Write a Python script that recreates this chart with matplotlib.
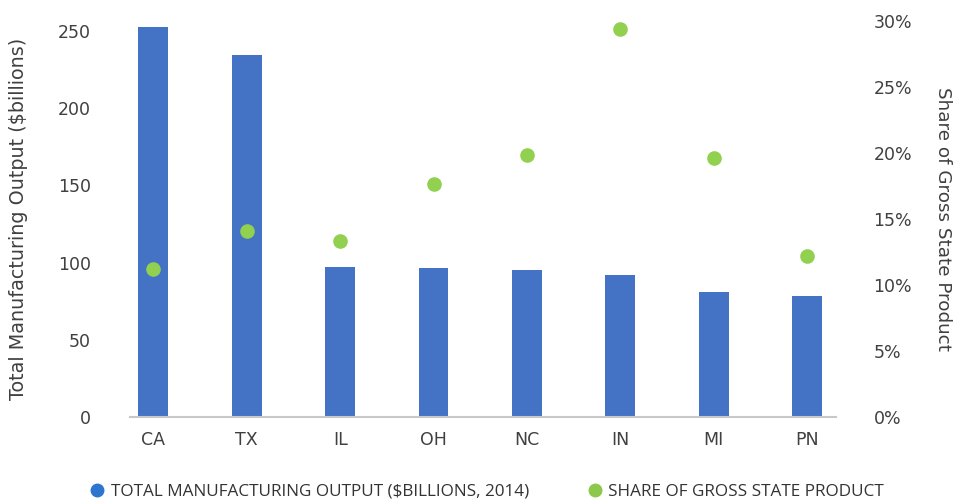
import matplotlib.pyplot as plt
from matplotlib.lines import Line2D
from matplotlib.ticker import PercentFormatter

plt.rcParams['font.family'] = ['DejaVu Sans']

states = ['CA', 'TX', 'IL', 'OH', 'NC', 'IN', 'MI', 'PN']
output_bn = [252.6, 234.5, 97.2, 96.5, 95.2, 92.0, 81.0, 78.4]
gsp_share = [11.2, 14.1, 13.3, 17.65, 19.85, 29.4, 19.6, 12.2]
left_ticks = [0, 50, 100, 150, 200, 250]
right_ticks = [0, 5, 10, 15, 20, 25, 30]

bar_color = '#4472C4'
dot_color = '#92D050'
text_color = '#404040'

fig = plt.figure(figsize=(9.64, 5.04), dpi=100)
ax = fig.add_axes([0.1349, 0.1726, 0.7323, 0.7857])
ax2 = ax.twinx()

x = range(len(states))
ax.bar(x, output_bn, width=0.32, color=bar_color, zorder=2)
ax2.plot(x, gsp_share, 'o', color=dot_color, markersize=9.5, zorder=3)

ax.set_xlim(-0.25, 7.31)
ax.set_ylim(0, 256.5)
ax2.set_ylim(0, 30)
ax.set_yticks(left_ticks)
ax2.set_yticks(right_ticks)
ax2.yaxis.set_major_formatter(PercentFormatter(decimals=0))
ax.set_xticks(list(x))
ax.set_xticklabels(states)

for a in (ax, ax2):
    for s in ['top', 'left', 'right', 'bottom']:
        a.spines[s].set_visible(False)
    a.tick_params(length=0, labelsize=12.5, colors=text_color)
ax.spines['bottom'].set_visible(True)
ax.spines['bottom'].set_color('#C8C8C8')
ax.spines['bottom'].set_linewidth(1.5)
ax.tick_params(axis='y', pad=28)
ax2.tick_params(axis='y', pad=27)
ax.tick_params(axis='x', pad=10)
for lbl in ax.get_xticklabels() + ax.get_yticklabels() + ax2.get_yticklabels():
    lbl.set_fontweight('medium')

ax.set_ylabel('Total Manufacturing Output ($billions)', fontsize=13.8, color=text_color,
              fontweight='medium')
ax.yaxis.set_label_coords(-0.145, 0.5)
ax2.set_ylabel('Share of Gross State Product', fontsize=13.2, color=text_color,
               fontweight='medium', rotation=270, va='center')
ax2.yaxis.set_label_coords(1.152, 0.5)

legend_font = {'family': 'Open Sans', 'size': 12.3}
fig.legend([Line2D([], [], marker='o', linestyle='none', color='#2E75D0', markersize=9)],
           ['TOTAL MANUFACTURING OUTPUT ($BILLIONS, 2014)'],
           loc='center left', bbox_to_anchor=(0.076, 0.024), frameon=False, prop=legend_font,
           handletextpad=0.3, handlelength=1.0, labelcolor='#333333')
fig.legend([Line2D([], [], marker='o', linestyle='none', color='#8CC84B', markersize=9)],
           ['SHARE OF GROSS STATE PRODUCT'],
           loc='center left', bbox_to_anchor=(0.592, 0.024), frameon=False,
           prop=legend_font, handletextpad=0.3, handlelength=1.0, labelcolor='#333333')

fig.savefig('out.png', dpi=100)
